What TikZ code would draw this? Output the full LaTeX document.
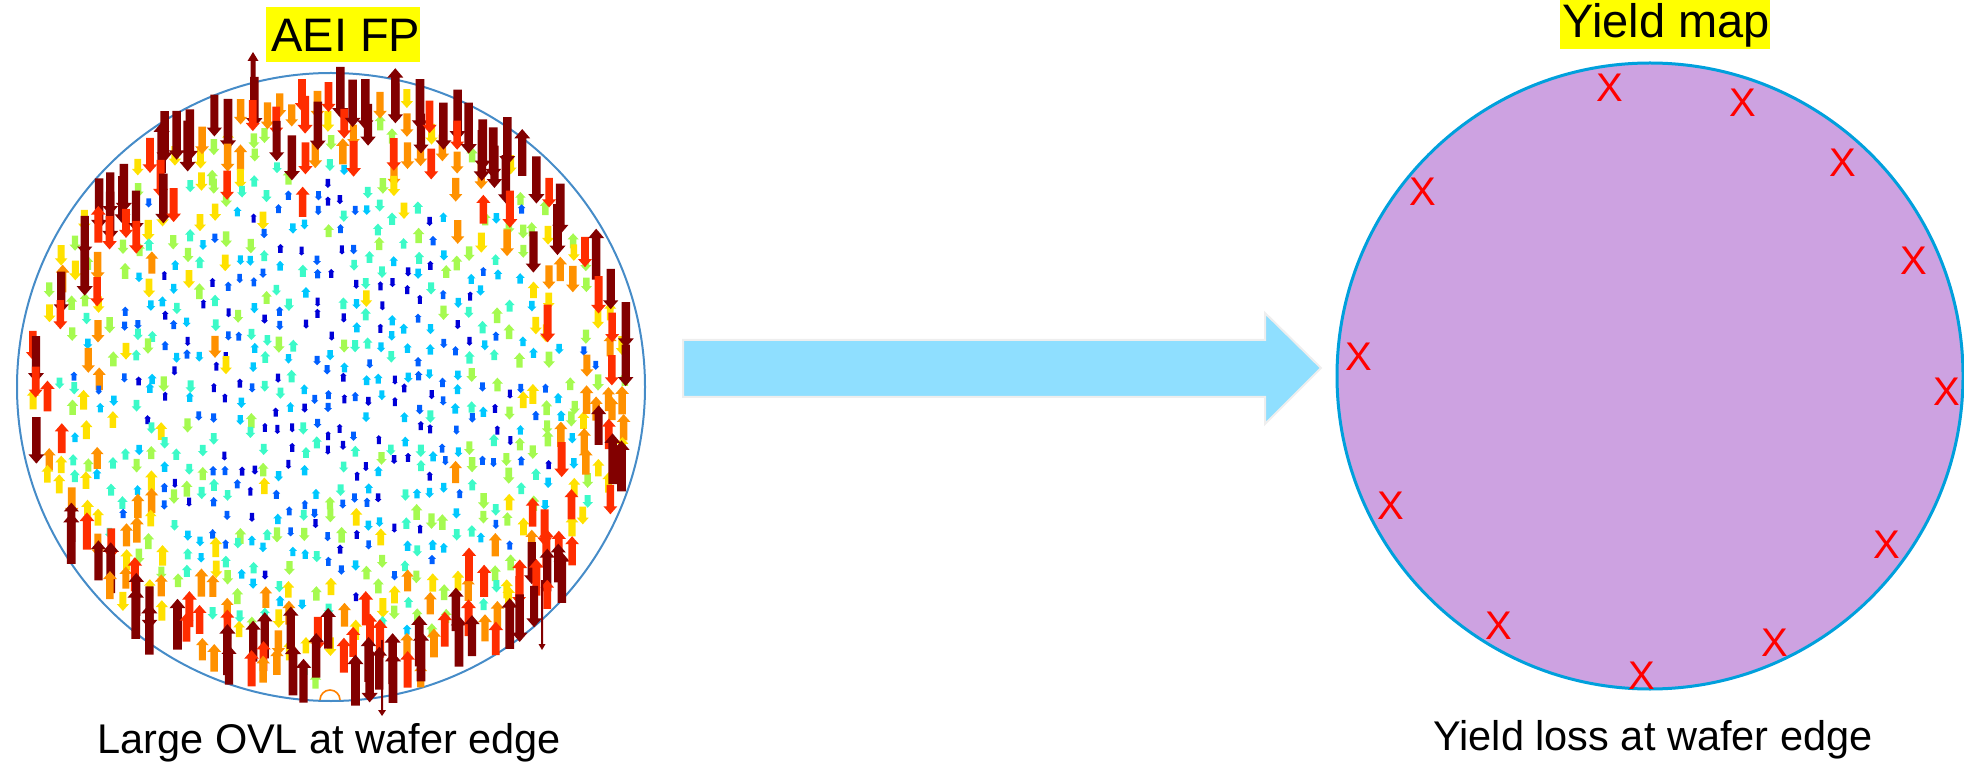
\documentclass[tikz,border=0pt]{standalone}
\usepackage{fontspec}
\setmainfont{Liberation Sans}
\definecolor{jet0}{RGB}{0,0,215}
\definecolor{jet1}{RGB}{0,95,255}
\definecolor{jet2}{RGB}{0,200,255}
\definecolor{jet3}{RGB}{60,250,200}
\definecolor{jet4}{RGB}{165,250,80}
\definecolor{jet5}{RGB}{255,225,0}
\definecolor{jet6}{RGB}{255,145,0}
\definecolor{jet7}{RGB}{255,45,0}
\definecolor{jet8}{RGB}{130,0,0}
\definecolor{waferrim}{RGB}{70,140,200}
\definecolor{yieldfill}{RGB}{205,162,225}
\definecolor{yieldrim}{RGB}{0,160,220}
\definecolor{flowfill}{RGB}{143,223,255}
\definecolor{flowrim}{RGB}{238,238,238}
\definecolor{hilite}{RGB}{255,255,0}
\newcommand\ovlfield[2]{%
  \pgfmathsetseed{#1}%
  \foreach \oi in {0,...,48}{%
    \foreach \oj in {0,...,29}{%
      \pgfmathsetmacro\opx{22+12.8*\oi+2.5*rand}%
      \pgfmathsetmacro\opy{78+21*\oj+10*mod(\oi,2)+7*rand}%
      \pgfmathsetmacro\onz{rand}%
      \pgfmathsetmacro\onw{rand}%
      \pgfmathsetmacro\odz{rnd}%
      \pgfmathsetmacro\osk{rnd}%
      \pgfmathsetmacro\ody{abs(\opy-387)/314}%
      \pgfmathsetmacro\orr{sqrt(((\opx-331)/314)^2+(\ody)^2)}%
      \pgfmathsetmacro\omm{max(0,min(0.999,0.2+0.95*\orr^3*(0.6+0.4*\ody/max(\orr,0.01))+0.26*\onz+0.3*\onw^5))}%
      \pgfmathtruncatemacro\oisin{and(\orr<0.965,\osk<0.82)}%
      \pgfmathtruncatemacro\oisbig{\omm>0.75}%
      \ifnum\oisin=1
        \ifnum\oisbig=#2
          \pgfmathtruncatemacro\oci{min(8,floor(\omm*9))}%
          \pgfmathsetmacro\odd{ifthenelse(\omm>0.55,ifthenelse(\odz<0.85,ifthenelse(\opy<387,1,-1),ifthenelse(\opy<387,-1,1)),ifthenelse(\odz<0.5,1,-1))}%
          \pgfmathsetmacro\oLL{9+42*\omm^3}%
          \pgfmathsetmacro\osw{2+2.3*\omm}%
          \pgfmathsetmacro\ohw{\osw+0.8+3*\omm}%
          \pgfmathsetmacro\ohh{2.5+7*\omm}%
          \pgfmathsetmacro\oby{\opy-\odd*\oLL/2}%
          \pgfmathsetmacro\oty{\opy+\odd*\oLL/2}%
          \pgfmathsetmacro\ony{\oty-\odd*\ohh}%
          \fill[jet\oci] (\opx-\osw,\oby) -- (\opx-\osw,\ony) -- (\opx-\ohw,\ony) -- (\opx,\oty) -- (\opx+\ohw,\ony) -- (\opx+\osw,\ony) -- (\opx+\osw,\oby) -- cycle;%
        \fi
      \fi
    }%
  }%
}
\newcommand\ovlarrow[7]{% x, ybase, ytip, shaft half, head half, head len, colour
  \fill[#7] (#1-#4,#2) -- (#1-#4,{#3-(#6)*sign(#3-#2)}) -- (#1-#5,{#3-(#6)*sign(#3-#2)}) -- (#1,#3) -- (#1+#5,{#3-(#6)*sign(#3-#2)}) -- (#1+#4,{#3-(#6)*sign(#3-#2)}) -- (#1+#4,#2) -- cycle;%
}
\begin{document}
\begin{tikzpicture}[x=0.5pt,y=-0.5pt,
  labelbox/.style={fill=hilite,inner sep=0pt,anchor=base west,font=\fontsize{23.5}{28}\selectfont},
  caption/.style={inner sep=0pt,anchor=base west,font=\fontsize{20.75}{25}\selectfont},
  lossmark/.style={inner sep=0pt,anchor=center,text=red,font=\fontsize{20}{24}\selectfont}]
\useasboundingbox (0,0) rectangle (1964,764);
% left wafer (overlay fingerprint)
\node[circle,draw=waferrim,line width=1pt,minimum size=314pt,inner sep=0pt] (wafer) at (331,387) {};
\draw[orange,line width=0.8pt] (320,700) arc[start angle=180,end angle=360,x radius=10,y radius=10];
\ovlfield{7}{0}
\ovlfield{7}{1}
\ovlarrow{253}{96}{52}{2.5}{5.5}{9}{jet8}
\ovlarrow{382}{640}{716}{1}{4}{6}{jet8}
\ovlarrow{542}{580}{650}{1}{3.5}{6}{jet8}
\node[labelbox,text height=22.5pt,text depth=5pt] (aei) at (266,52) {\hspace{2.5pt}AEI FP\hspace{5.5pt}};
\node[caption] (ovl) at (97,753) {Large OVL at wafer edge};
% flow arrow
\filldraw[fill=flowfill,draw=flowrim,line width=1pt]
  (683,340) -- (1265,340) -- (1265,313) -- (1321,368) -- (1265,424) -- (1265,397) -- (683,397) -- cycle;
% right wafer (yield map)
\node[circle,draw=yieldrim,fill=yieldfill,line width=1.5pt,minimum size=313pt,inner sep=0pt] (yield) at (1650,376) {};
\node[labelbox,text height=19pt,text depth=5.5pt] (ymap) at (1560,38) {\hspace{1pt}Yield map\hspace{7.5pt}};
\node[caption] (loss) at (1433,750) {Yield loss at wafer edge};
\node[lossmark] (x1) at (1610,88) {X};
\node[lossmark] (x2) at (1743,103) {X};
\node[lossmark] (x3) at (1843,163) {X};
\node[lossmark] (x4) at (1914,261) {X};
\node[lossmark] (x5) at (1947,392) {X};
\node[lossmark] (x6) at (1887,545) {X};
\node[lossmark] (x7) at (1775,643) {X};
\node[lossmark] (x8) at (1642,676) {X};
\node[lossmark] (x9) at (1499,626) {X};
\node[lossmark] (x10) at (1391,506) {X};
\node[lossmark] (x11) at (1359,357) {X};
\node[lossmark] (x12) at (1423,192) {X};
\end{tikzpicture}
\end{document}
